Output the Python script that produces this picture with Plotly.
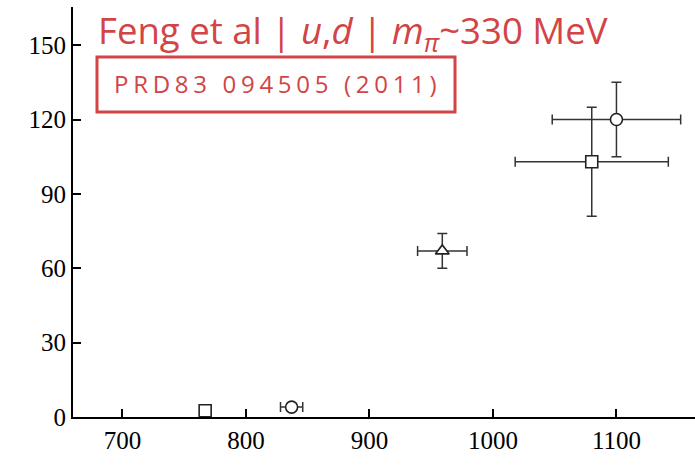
import plotly.graph_objects as go

# Resonance mass (MeV) vs width (MeV) data points
mass = [767, 837, 959, 1080, 1100]
width = [2.5, 4, 67, 103, 120]
mass_err = [0, 9, 20, 62, 52]
width_err = [0, 1.2, 7, 22, 15]
symbols = ["square", "circle", "triangle-up", "square", "circle"]

x_ticks = [700, 800, 900, 1000, 1100]
y_ticks = [0, 30, 60, 90, 120, 150]

RED = "#d24446"

fig = go.Figure()
fig.add_trace(go.Scatter(
    x=mass, y=width, mode="markers",
    marker=dict(symbol=symbols, size=12,
                color="white", line=dict(color="#222", width=1.6)),
    error_x=dict(type="data", array=mass_err, color="#333", thickness=1.5, width=5),
    error_y=dict(type="data", array=width_err, color="#333", thickness=1.5, width=5),
    showlegend=False, cliponaxis=False,
))

axis_common = dict(
    showgrid=False, zeroline=False, showline=True, linecolor="black", linewidth=2,
    ticks="inside", ticklen=8, tickwidth=1.5, tickcolor="black",
    tickfont=dict(family="Liberation Serif", size=25, color="black"),
)
fig.update_xaxes(range=[660, 1163.6], tickvals=x_ticks, **axis_common)
fig.update_yaxes(range=[0, 165.4], tickvals=y_ticks, **axis_common)

fig.add_annotation(
    xref="paper", yref="paper", x=(96 - 73) / 622, y=(417 - 33) / 410,
    xanchor="left", yanchor="middle", showarrow=False,
    text="Feng et al | <i>u</i>,<i>d</i> | <i>m</i><sub><i>π</i></sub>~330 MeV",
    font=dict(family="Open Sans", size=36.6, color=RED),
)
fig.add_shape(
    type="rect", xref="paper", yref="paper",
    x0=(97 - 73) / 622, x1=(455 - 73) / 622,
    y0=(417 - 112) / 410, y1=(417 - 57) / 410,
    line=dict(color=RED, width=3), fillcolor="white",
)
fig.add_annotation(
    xref="paper", yref="paper", x=(112 - 73) / 622, y=(417 - 84) / 410,
    xanchor="left", yanchor="middle", showarrow=False,
    text='<span style="letter-spacing:4.7px">PRD83 094505 (2011)</span>',
    font=dict(family="Open Sans", size=24, color=RED),
)

fig.update_layout(
    width=695, height=466, margin=dict(l=73, r=0, t=7, b=49),
    plot_bgcolor="white", paper_bgcolor="white",
)
fig.write_html("out.html")
